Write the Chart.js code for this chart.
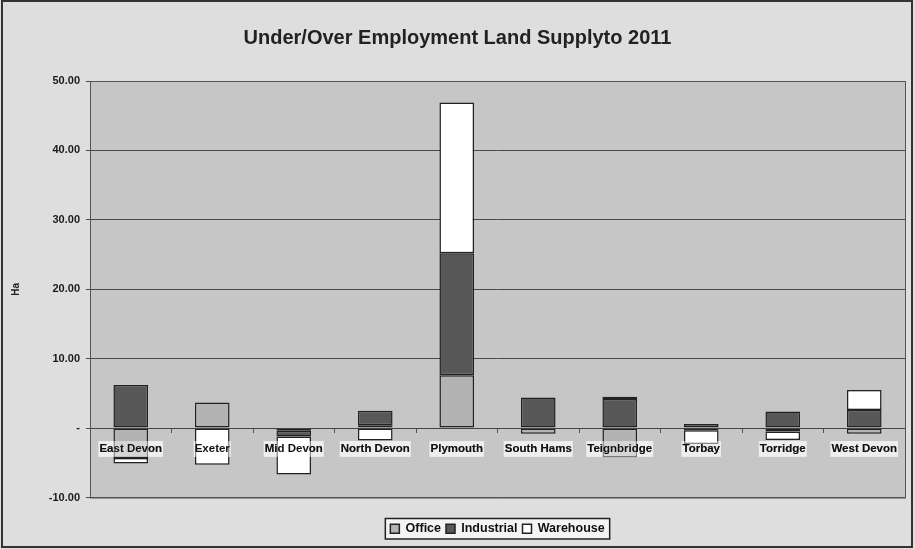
<!DOCTYPE html>
<html>
<head>
<meta charset="utf-8">
<script src="https://cdn.jsdelivr.net/npm/chart.js@4.4.0/dist/chart.umd.min.js"></script>
<style>
  html, body { margin: 0; padding: 0; background: #dedede; }
  #wrap { width: 915px; height: 549px; position: relative; }
</style>
</head>
<body>
<div id="wrap"><canvas id="chart" width="915" height="549"></canvas></div>
<script>
// Land supply (Ha) per district
const districts = ['East Devon', 'Exeter', 'Mid Devon', 'North Devon', 'Plymouth',
  'South Hams', 'Teignbridge', 'Torbay', 'Torridge', 'West Devon'];
const office     = [-4.3, 3.7, -0.4, 0.4, 7.6, -0.8, -4.2, -0.3, -0.5, -0.8];
const industrial = [6.2, 0, -0.8, 2.1, 17.6, 4.4, 4.2, 0.6, 2.4, 2.6];
const warehouse  = [-0.8, -5.3, -5.5, -1.8, 21.7, 0, 0.3, -2.0, -1.2, 2.9];
const yTicks = [-10, 0, 10, 20, 30, 40, 50];

function legendBox(l) {
  const hb = l.legendHitBoxes;
  const first = hb[0], last = hb[hb.length - 1];
  return { x: first.left - 5, y: first.top - 4, w: last.left + last.width - first.left + 10, h: first.height + 8 };
}

// plot background, outer frame and legend box
const frame = {
  id: 'frame',
  beforeDraw(chart) {
    const {ctx, chartArea: a, legend: l} = chart;
    ctx.save();
    ctx.fillStyle = '#c6c6c6';
    ctx.fillRect(a.left, a.top, a.right - a.left, a.bottom - a.top);
    if (l.legendHitBoxes && l.legendHitBoxes.length) {
      const b = legendBox(l);
      ctx.fillStyle = '#f4f4f4';
      ctx.fillRect(b.x, b.y, b.w, b.h);
    }
    ctx.restore();
  },
  // category labels sit on top of the bars, as in the original
  afterDatasetsDraw(chart) {
    chart.scales.x.draw(chart.chartArea);
  },
  afterDraw(chart) {
    const {ctx, chartArea: a, legend: l} = chart;
    ctx.save();
    ctx.strokeStyle = '#555';
    ctx.lineWidth = 1;
    ctx.strokeRect(a.left + 0.5, a.top + 0.5, a.right - a.left, a.bottom - a.top);
    const b = legendBox(l);
    ctx.strokeStyle = '#222';
    ctx.lineWidth = 1.5;
    ctx.strokeRect(b.x, b.y, b.w, b.h);
    ctx.strokeStyle = '#333';
    ctx.lineWidth = 2;
    ctx.strokeRect(2, 1, 910, 546);
    ctx.restore();
  }
};

const barStyle = { borderColor: '#222', borderWidth: 1.5, borderSkipped: false,
  barPercentage: 0.85, categoryPercentage: 0.5 };

new Chart(document.getElementById('chart'), {
  type: 'bar',
  data: {
    labels: districts,
    datasets: [
      { label: 'Office', data: office, backgroundColor: '#b3b3b3', ...barStyle },
      { label: 'Industrial', data: industrial, backgroundColor: '#585858', ...barStyle },
      { label: 'Warehouse', data: warehouse, backgroundColor: '#ffffff', ...barStyle }
    ]
  },
  options: {
    responsive: false,
    animation: false,
    layout: { padding: { left: 10, right: 10, top: 0, bottom: 4 } },
    plugins: {
      title: {
        display: true,
        text: 'Under/Over Employment Land Supplyto 2011',
        color: '#222',
        font: { family: 'Liberation Sans', size: 20, weight: 'bold' },
        padding: { top: 26, bottom: 31 }
      },
      legend: {
        position: 'bottom',
        fullSize: false,
        labels: {
          color: '#111',
          font: { family: 'Liberation Sans', size: 12.5, weight: 'bold' },
          boxWidth: 9, boxHeight: 9, padding: 5,
          useBorderRadius: false
        }
      },
      tooltip: { enabled: false }
    },
    scales: {
      x: {
        stacked: true,
        position: { y: 0 },
        grid: { display: true, offset: true, drawOnChartArea: false, tickLength: 4, color: '#555' },
        border: { color: '#444', width: 1 },
        ticks: {
          color: '#111', padding: 10, maxRotation: 0, autoSkip: false,
          font: { family: 'Liberation Sans', size: 11.5, weight: 'bold' },
          backdropColor: 'rgba(255,255,255,0.45)', showLabelBackdrop: true, backdropPadding: 1
        }
      },
      // spacer between plot and legend
      gap: {
        type: 'category',
        position: 'bottom',
        grid: { display: false },
        border: { display: false },
        ticks: { display: false },
        afterFit(s) { s.height = 20; }
      },
      y: {
        stacked: true,
        min: -10, max: 50,
        afterBuildTicks(s) { s.ticks = yTicks.map(v => ({ value: v })); },
        afterFit(s) { s.width = 80; },
        grid: { color: '#4a4a4a', lineWidth: 1, tickLength: 4 },
        border: { display: false },
        title: {
          display: true, text: 'Ha', color: '#222', padding: 0,
          font: { family: 'Liberation Sans', size: 10, weight: 'bold' }
        },
        ticks: {
          color: '#1a1a1a', padding: 6,
          font: { family: 'Liberation Sans', size: 11, weight: 'bold' },
          callback: v => v === 0 ? '-' : v.toFixed(2)
        }
      }
    }
  },
  plugins: [frame]
});
</script>
</body>
</html>
